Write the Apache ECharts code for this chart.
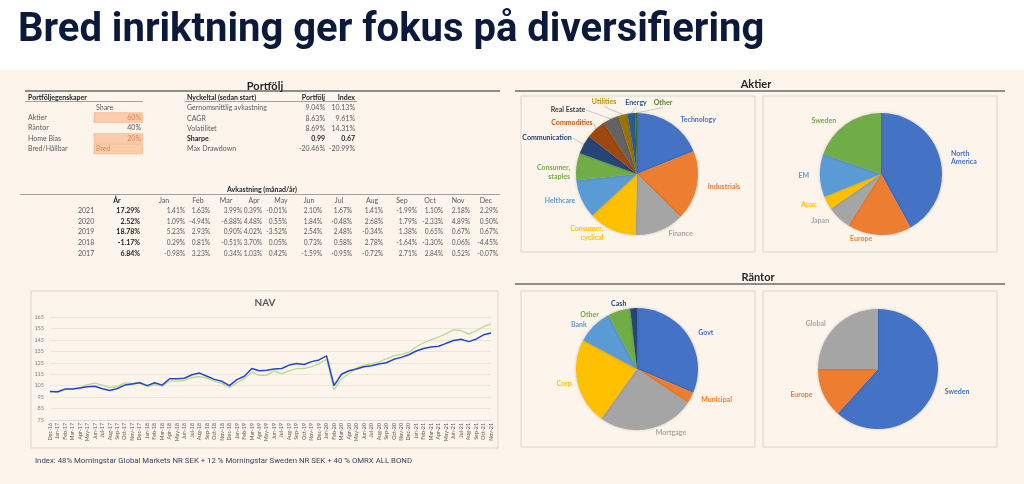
<!DOCTYPE html>
<html><head><meta charset="utf-8">
<script src="https://cdn.jsdelivr.net/npm/echarts/dist/echarts.min.js"></script>
<style>html,body{margin:0;padding:0;background:#fff}#c{width:1024px;height:484px}</style>
</head><body><div id="c"></div>
<script>
// ---------------- DATA ----------------
const titleText = 'Bred inriktning ger fokus på diversifiering';
const footnote = 'Index: 48% Morningstar Global Markets NR SEK + 12 % Morningstar Sweden NR SEK + 40 % OMRX ALL BOND';

const propLabels = ['Aktier', 'Räntor', 'Home Bias', 'Bred/Hållbar'];
const propValues = ['60%', '40%', '20%', 'Bred'];
const propInput = [true, false, true, true];

const keyLabels = ['Gernomsnittlig avkastning', 'CAGR', 'Volatilitet', 'Sharpe', 'Max Drawdown'];
const keyPortfolio = ['9.04%', '8.63%', '8.69%', '0.99', '-20.46%'];
const keyIndex = ['10.13%', '9.61%', '14.31%', '0.67', '-20.99%'];
const keyBold = [false, false, false, true, false];

const monthNames = ['Jan', 'Feb', 'Mar', 'Apr', 'May', 'Jun', 'Jul', 'Aug', 'Sep', 'Oct', 'Nov', 'Dec'];
const years = ['2021', '2020', '2019', '2018', '2017'];
const yearTotals = ['17.29%', '2.52%', '18.78%', '-1.17%', '6.84%'];
const ret2021 = ['1.41%', '1.63%', '3.99%', '0.39%', '-0.01%', '2.10%', '1.67%', '1.41%', '-1.99%', '1.10%', '2.18%', '2.29%'];
const ret2020 = ['1.09%', '-4.94%', '-6.88%', '4.48%', '0.55%', '1.84%', '-0.48%', '2.68%', '1.79%', '-2.33%', '4.89%', '0.50%'];
const ret2019 = ['5.23%', '2.93%', '0.90%', '4.02%', '-3.52%', '2.54%', '2.48%', '-0.34%', '1.38%', '0.65%', '0.67%', '0.67%'];
const ret2018 = ['0.29%', '0.81%', '-0.51%', '3.70%', '0.05%', '0.73%', '0.58%', '2.78%', '-1.64%', '-3.30%', '0.06%', '-4.45%'];
const ret2017 = ['-0.98%', '3.23%', '0.34%', '1.03%', '0.42%', '-1.59%', '-0.95%', '-0.72%', '2.71%', '2.84%', '0.52%', '-0.07%'];

const navMonths = ['Dec-16','Jan-17','Feb-17','Mar-17','Apr-17','May-17','Jun-17','Jul-17','Aug-17','Sep-17','Oct-17','Nov-17',
  'Dec-17','Jan-18','Feb-18','Mar-18','Apr-18','May-18','Jun-18','Jul-18','Aug-18','Sep-18','Oct-18','Nov-18',
  'Dec-18','Jan-19','Feb-19','Mar-19','Apr-19','May-19','Jun-19','Jul-19','Aug-19','Sep-19','Oct-19','Nov-19',
  'Dec-19','Jan-20','Feb-20','Mar-20','Apr-20','May-20','Jun-20','Jul-20','Aug-20','Sep-20','Oct-20','Nov-20',
  'Dec-20','Jan-21','Feb-21','Mar-21','Apr-21','May-21','Jun-21','Jul-21','Aug-21','Sep-21','Oct-21','Nov-21'];
const navPortfolio = [100, 99.7, 102, 102, 103, 104, 104.5, 102.3, 100.8, 102.5, 105.5, 106.5,
  107.5, 105, 107.5, 105.5, 111, 111, 111.5, 114.5, 116, 113.2, 110.5, 108.8,
  105, 110.3, 113.2, 120, 118, 118.5, 119.5, 120, 123, 124.4, 123.5, 126,
  127.5, 131, 105, 115, 118, 119.5, 121.5, 122.4, 124, 125, 128, 129.7,
  132, 135.3, 137.4, 138.8, 139.4, 142, 144.4, 145.6, 143.5, 145.6, 149.4, 151];
const navIndex = [100, 99, 101.5, 102.5, 103, 106, 107.3, 105.5, 103.2, 104.5, 107.4, 106.8,
  108, 104, 106, 104.5, 109, 109, 109.5, 112, 113, 111.5, 109, 107,
  103.5, 107.4, 111, 117, 114, 114, 118, 115.5, 118, 120, 120, 121.5,
  124.5, 128, 101.5, 111, 115.6, 120.5, 123, 124.2, 125.6, 128.5, 131, 132.4,
  134.2, 139, 142.5, 145.3, 147.5, 150.5, 153.8, 153.2, 150, 153, 156.5, 159];
const navTicks = [75, 85, 95, 105, 115, 125, 135, 145, 155, 165];

const sectorNames = ['Technology', 'Industrials', 'Finance', 'Consumer,\ncyclical', 'Helthcare', 'Consumer,\nstaples', 'Communication', 'Commodities', 'Real Estate', 'Utilities', 'Energy', 'Other'];
const sectorShares = [19, 18.5, 13, 12.8, 10.3, 7.2, 5, 5.3, 4.2, 2.5, 2, 0.5];
const equityRegions = ['North\nAmerica', 'Europe', 'Japan', 'Apac', 'EM', 'Sweden'];
const equityRegionShares = [42, 17, 6.4, 3.6, 11.3, 19.8];
const bondTypes = ['Govt', 'Municipal', 'Mortgage', 'Corp', 'Bank', 'Other', 'Cash'];
const bondTypeShares = [31.4, 2.9, 25.6, 22.9, 9.4, 6, 1.8];
const bondRegions = ['Sweden', 'Europe', 'Global'];
const bondRegionShares = [61.7, 13.3, 25];

const headerPortfolio = 'Portfölj';
const headerAktier = 'Aktier';
const headerRantor = 'Räntor';
const headerReturns = 'Avkastning (månad/år)';
const navTitle = 'NAV';

// ---------------- STYLE / LAYOUT ----------------
const XL = ['#4472c4', '#ed7d31', '#a5a5a5', '#ffc000', '#5b9bd5', '#70ad47', '#264478', '#9e480e', '#636363', '#997300', '#255e91', '#43682b'];
const XL_LABEL = ['#4472c4', '#ed7d31', '#a5a5a5', '#ffc000', '#5b9bd5', '#70ad47', '#264478', '#c55a11', '#404040', '#bf9000', '#255e91', '#548235'];
const CREAM = '#fdf5ec';
const TXT = '#595959';
const DARK = '#262626';
const F = 'Lato';

const G = [];
function rect(x, y, w, h, style, z) { G.push({ type: 'rect', silent: true, z: z || 0, shape: { x, y, width: w, height: h }, style }); }
function line(x1, y1, x2, y2, stroke, w) { G.push({ type: 'line', silent: true, z: 1, shape: { x1, y1, x2, y2 }, style: { stroke, lineWidth: w || 1 } }); }
function txt(x, y, text, o) {
  o = o || {};
  const al = o.align || 'left';
  G.push({ type: 'text', silent: true, z: 10, x, y, style: {
    text, fill: o.fill || TXT, font: (o.bold ? 'bold ' : '') + (o.size || 7) + 'px ' + (o.family || F),
    textAlign: al, align: al, textVerticalAlign: 'middle', verticalAlign: 'middle' } });
}

// backgrounds
rect(0, 70, 1024, 414, { fill: CREAM }, -5);
txt(18, 31, titleText, { size: 40, bold: true, family: 'Roboto', fill: '#0b1a3a' });

// Portfolio block
txt(265, 86, headerPortfolio, { size: 11, bold: true, fill: DARK, align: 'center' });
line(25, 91, 500, 91, '#6b6b6b', 1.6);
txt(28, 97.5, 'Portföljegenskaper', { bold: true, fill: DARK });
line(25, 101.5, 143, 101.5, '#8c8c8c', 0.8);
txt(96, 108, 'Share');
propLabels.forEach((lab, i) => {
  const y = 117.5 + i * 10.5;
  txt(28, y, lab);
  if (propInput[i]) rect(94, y - 4.8, 48.5, 9.6, { fill: '#fbcdaa', stroke: '#f2ad7c', lineWidth: 0.6 }, 1);
  const isText = isNaN(parseFloat(propValues[i]));
  txt(isText ? 96 : 141, y, propValues[i], { align: isText ? 'left' : 'right', fill: propInput[i] ? '#e2844f' : TXT });
});
txt(187, 97.5, 'Nyckeltal (sedan start)', { bold: true, fill: DARK });
txt(325, 97.5, 'Portfölj', { bold: true, fill: DARK, align: 'right' });
txt(355, 97.5, 'Index', { bold: true, fill: DARK, align: 'right' });
line(185, 101.5, 357, 101.5, '#8c8c8c', 0.8);
keyLabels.forEach((lab, i) => {
  const y = 108 + i * 10.3;
  const c = keyBold[i] ? DARK : TXT;
  txt(187, y, lab, { bold: keyBold[i], fill: c });
  txt(325, y, keyPortfolio[i], { bold: keyBold[i], fill: c, align: 'right' });
  txt(355, y, keyIndex[i], { bold: keyBold[i], fill: c, align: 'right' });
});

// Returns table
txt(262, 190, headerReturns, { bold: true, fill: DARK, align: 'center' });
line(20, 194.5, 500, 194.5, '#8c8c8c', 0.8);
const monthHeadX = [164, 198, 226, 254, 281, 309, 339, 372, 402, 430, 458, 486];
const monthValX = [185, 210, 242, 262, 287, 322, 352, 383, 417, 443, 470, 498];
txt(117, 200.5, 'År', { bold: true, fill: DARK, align: 'center' });
monthNames.forEach((m, j) => txt(monthHeadX[j], 200.5, m, { align: 'center' }));
const allRet = [ret2021, ret2020, ret2019, ret2018, ret2017];
years.forEach((yr, i) => {
  const y = 211 + i * 10.6;
  txt(78, y, yr);
  txt(140, y, yearTotals[i], { bold: true, fill: DARK, align: 'right' });
  allRet[i].forEach((v, j) => txt(monthValX[j], y, v, { align: 'right', size: 6.6 }));
});

// NAV box
rect(31, 291, 467, 157, { fill: CREAM, stroke: '#d9d4cc', lineWidth: 1 }, -2);
txt(265, 303, navTitle, { size: 10, bold: true, fill: '#595959', align: 'center' });

// Pie panels
txt(756, 84, headerAktier, { size: 11, bold: true, fill: DARK, align: 'center' });
line(515, 91, 1005, 91, '#6b6b6b', 1.6);
txt(758, 277, headerRantor, { size: 11, bold: true, fill: DARK, align: 'center' });
line(515, 284, 1005, 284, '#6b6b6b', 1.6);
[[521, 96], [763, 96], [521, 291], [763, 291]].forEach(p => rect(p[0], p[1], 234, 156, { fill: CREAM, stroke: '#d9d4cc', lineWidth: 1 }, -2));

txt(35, 461, footnote, { size: 7.8, family: 'Roboto', fill: '#3c3f5a' });

// ---------------- CHART ----------------
// label placement tweaks for the crowded small slices (offset from pie centre, and leader anchor side)
const sectorLabelPlace = {
  'Communication': [-90, -36, 'right'],
  'Commodities': [-65, -51, 'right'],
  'Real Estate': [-69, -64, 'right'],
  'Utilities': [-33, -72, 'bottom'],
  'Energy': [-1, -71, 'bottom'],
  'Other': [26, -71, 'bottom']
};

function pie(names, values, colors, labelColors, center, r, place) {
  place = place || {};
  return {
    type: 'pie', center, radius: r, startAngle: 90, clockwise: true, avoidLabelOverlap: true, minShowLabelAngle: 0,
    label: { show: true, position: 'outside', fontSize: 7, fontWeight: 'bold', fontFamily: F, lineHeight: 8.5 },
    labelLine: { show: false, length: 4, length2: 2 },
    itemStyle: { borderWidth: 0, shadowBlur: 3, shadowColor: 'rgba(0,0,0,0.22)' },
    emphasis: { disabled: true },
    labelLayout: function (p) {
      const pl = place[names[p.dataIndex]];
      if (!pl) return {};
      const x = center[0] + pl[0], y = center[1] + pl[1];
      const res = { x, y, align: 'center', verticalAlign: 'middle' };
      if (p.labelLinePoints && p.labelLinePoints.length) {
        const s = p.labelLinePoints[0];
        const w = p.labelRect.width;
        const end = pl[2] === 'right' ? [x + w / 2 + 1, y] : [x, y + 4.5];
        res.labelLinePoints = [s, end, end];
      }
      return res;
    },
    data: names.map((n, i) => {
      const d = { name: n, value: values[i], itemStyle: { color: colors[i] }, label: { color: labelColors[i] } };
      if (place[n]) d.labelLine = { show: true, length: 8, length2: 6, lineStyle: { color: '#a6a6a6', width: 0.6 } };
      return d;
    })
  };
}

const option = {
  animation: false,
  backgroundColor: '#ffffff',
  textStyle: { fontFamily: F },
  graphic: { elements: G },
  grid: { left: 50, top: 317, width: 441, height: 103, outerBoundsMode: 'none', containLabel: false },
  xAxis: {
    type: 'category', data: navMonths, boundaryGap: false,
    axisTick: { show: false }, axisLine: { lineStyle: { color: '#d9d9d9' } },
    axisLabel: { rotate: 90, interval: 0, fontSize: 5.3, color: '#595959', margin: 3, fontFamily: F }
  },
  yAxis: {
    type: 'value', min: navTicks[0], max: navTicks[navTicks.length - 1], interval: 10,
    axisLine: { show: false }, axisTick: { show: false },
    splitLine: { lineStyle: { color: '#ede5da', width: 1 } },
    axisLabel: { fontSize: 5.5, color: '#7f7f7f', margin: 6, fontFamily: F }
  },
  series: [
    { type: 'line', data: navIndex, showSymbol: false, lineStyle: { color: '#b7da8f', width: 1.3 }, z: 3 },
    { type: 'line', data: navPortfolio, showSymbol: false, lineStyle: { color: '#2446c8', width: 1.5 }, z: 4 },
    pie(sectorNames, sectorShares, XL, XL_LABEL, [637, 174], 61, sectorLabelPlace),
    pie(equityRegions, equityRegionShares, XL, XL_LABEL, [881, 174], 61),
    pie(bondTypes, bondTypeShares, XL, XL_LABEL, [637, 369], 61),
    pie(bondRegions, bondRegionShares, XL, XL_LABEL, [878, 369], 60)
  ]
};
const chart = echarts.init(document.getElementById('c'), null, { renderer: 'canvas', width: 1024, height: 484 });
chart.setOption(option);
</script>
</body></html>
